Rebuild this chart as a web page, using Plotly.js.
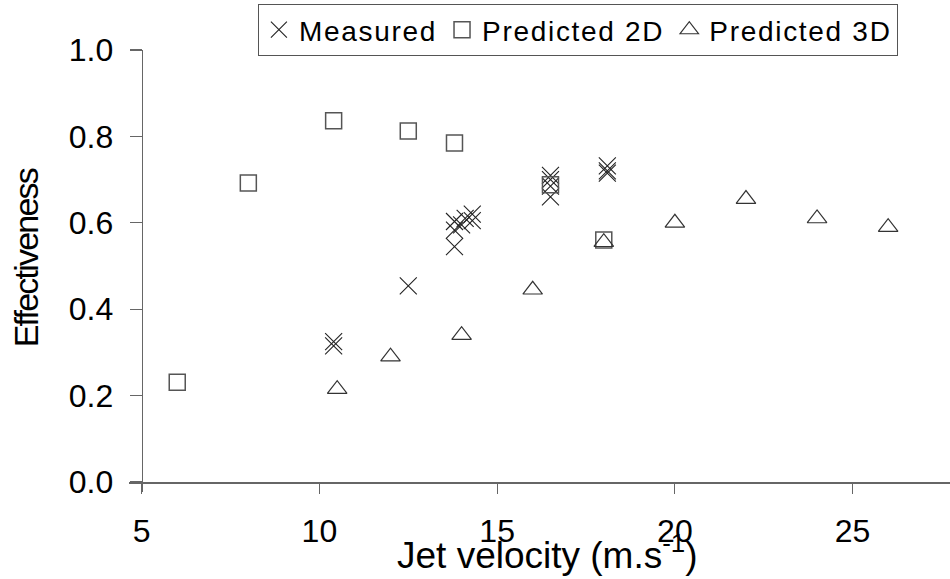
<!DOCTYPE html>
<html>
<head>
<meta charset="utf-8">
<script src="https://cdn.plot.ly/plotly-3.0.1.min.js"></script>
<style>html,body{margin:0;padding:0;background:#fff;}#chart{width:950px;height:579px;}</style>
</head>
<body>
<div id="chart"></div>
<script>
// Measured
const measuredX = [10.4, 10.4, 12.5, 13.8, 13.8, 13.8, 14.0, 14.1, 14.3, 14.3, 16.5, 16.5, 16.5, 16.5, 18.1, 18.1, 18.1];
const measuredY = [0.315, 0.325, 0.454, 0.545, 0.583, 0.603, 0.595, 0.61, 0.605, 0.62, 0.66, 0.685, 0.70, 0.71, 0.715, 0.72, 0.732];
// Predicted 2D
const pred2dX = [6, 8, 10.4, 12.5, 13.8, 16.5, 18];
const pred2dY = [0.231, 0.692, 0.836, 0.8125, 0.785, 0.688, 0.56];
// Predicted 3D
const pred3dX = [10.5, 12, 14, 16, 18, 20, 22, 24, 26];
const pred3dY = [0.215, 0.29, 0.34, 0.445, 0.555, 0.60, 0.655, 0.61, 0.59];

const seriesNames = ['Measured', 'Predicted 2D', 'Predicted 3D'];
const xTicks = [5, 10, 15, 20, 25];
const yTicks = [0.0, 0.2, 0.4, 0.6, 0.8, 1.0];
const yTickText = ['0.0', '0.2', '0.4', '0.6', '0.8', '1.0'];
const xTitle = 'Jet velocity (m.s<sup>-1</sup>)';
const yTitle = 'Effectiveness';

const wide = s => '<span style="letter-spacing:1.7px">' + s + '</span>';

const traces = [
  {x: measuredX, y: measuredY, name: wide(seriesNames[0]), type: 'scatter', mode: 'markers',
   marker: {symbol: 'x-thin-open', size: 17, color: '#222', line: {width: 1.1, color: '#222'}}},
  {x: pred2dX, y: pred2dY, name: wide(seriesNames[1]), type: 'scatter', mode: 'markers',
   marker: {symbol: 'square-open', size: 16, color: '#555', line: {width: 1.5, color: '#555'}}},
  {x: pred3dX, y: pred3dY, name: wide(seriesNames[2]), type: 'scatter', mode: 'markers',
   marker: {symbol: 'triangle-up-open', size: 17, color: '#333', line: {width: 1.2, color: '#333'}}}
];

const layout = {
  width: 950, height: 579,
  margin: {l: 129, r: 0, t: 50, b: 87},
  paper_bgcolor: '#fff', plot_bgcolor: '#fff',
  font: {family: 'Liberation Sans, Arial, sans-serif', color: '#000'},
  showlegend: true,
  legend: {orientation: 'h', x: 0.157, y: 1.104, xanchor: 'left', yanchor: 'top',
           bordercolor: '#555', borderwidth: 1, font: {size: 28, color: '#000'},
           itemwidth: 30, tracegroupgap: 0, bgcolor: '#fff'},
  xaxis: {range: [4.643, 27.74], tickvals: xTicks, ticktext: xTicks.map(String),
          showgrid: false, zeroline: false, showline: true, linecolor: '#666', linewidth: 1.5,
          anchor: 'free', position: 0.0226,
          ticks: 'outside', ticklen: 10, tickcolor: '#666', tickwidth: 1.2,
          ticklabelstandoff: 10,
          tickfont: {size: 32}},
  yaxis: {range: [-0.02315, 1.0], tickvals: yTicks, ticktext: yTickText,
          showgrid: false, zeroline: false, showline: true, linecolor: '#666', linewidth: 1.5,
          anchor: 'free', position: 0.01547,
          ticks: 'outside', ticklen: 12, tickcolor: '#666', tickwidth: 1.2,
          ticklabelstandoff: 10,
          tickfont: {size: 32}},
  annotations: [
    {text: xTitle, xref: 'paper', yref: 'paper', x: 0.51, y: -0.138, xanchor: 'center', yanchor: 'middle',
     showarrow: false, font: {size: 37, color: '#000'}},
    {text: '<span style="letter-spacing:-1.8px">' + yTitle + '</span>', xref: 'paper', yref: 'paper',
     x: -0.126, y: 0.53, xanchor: 'center', yanchor: 'middle', textangle: -90,
     showarrow: false, font: {size: 34, color: '#000'}}
  ]
};

Plotly.newPlot('chart', traces, layout, {displayModeBar: false, staticPlot: true});
</script>
</body>
</html>
